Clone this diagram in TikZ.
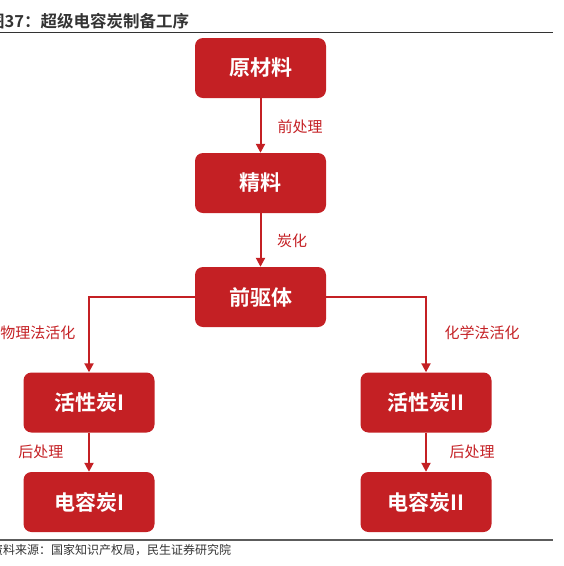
\documentclass[tikz,border=0pt]{standalone}
\usepackage{fontspec}
\setmainfont{Noto Sans CJK SC}
\newfontfamily\cjkb{Noto Sans CJK SC Bold}
\usetikzlibrary{arrows.meta}
\definecolor{rd}{HTML}{C42024}
\definecolor{tg}{HTML}{333333}
\tikzset{
  box/.style={fill=rd, rounded corners=8pt, minimum width=131pt, minimum height=60pt, inner sep=0pt, text=white, font=\cjkb\fontsize{21}{25}\selectfont},
  conn/.style={draw=rd, line width=2pt, -{Triangle[length=9pt,width=9pt]}},
  lbl/.style={text=rd, font=\fontsize{15}{18}\selectfont, inner sep=0pt}
}
\begin{document}
\begin{tikzpicture}[x=1pt,y=-1pt]
\useasboundingbox (0,0) rectangle (564,566);
\node[anchor=base west, inner sep=0pt, text=tg, font=\cjkb\fontsize{16.5}{19}\selectfont] (title) at (-12,27) {图37：超级电容炭制备工序};
\draw[tg, line width=1.4pt] (0,32.5) -- (553,32.5);
\node[box] (a) at (260.5,68) {原材料};
\node[box] (b) at (260.5,183) {精料};
\node[box] (c) at (260.5,297) {前驱体};
\node[box] (d) at (89,402.5) {活性炭I};
\node[box] (e) at (426,402.5) {活性炭II};
\node[box] (f) at (89,502) {电容炭I};
\node[box] (g) at (426,502) {电容炭II};
\draw[conn] (a) -- (b);
\draw[conn] (b) -- (c);
\draw[conn] (c.west) -| (d.north);
\draw[conn] (c.east) -| (e.north);
\draw[conn] (d) -- (f);
\draw[conn] (e) -- (g);
\node[lbl] (l1) at (300,127) {前处理};
\node[lbl] (l2) at (292,241) {炭化};
\node[lbl] (l3) at (38,333) {物理法活化};
\node[lbl] (l4) at (482,333) {化学法活化};
\node[lbl] (l5) at (41,452) {后处理};
\node[lbl] (l6) at (472,452) {后处理};
\draw[tg!80, line width=1.2pt] (0,540) -- (553,540);
\node[anchor=base west, inner sep=0pt, text=tg, font=\fontsize{12}{14}\selectfont] (src) at (-9,554) {资料来源：国家知识产权局，民生证券研究院};
\end{tikzpicture}
\end{document}
